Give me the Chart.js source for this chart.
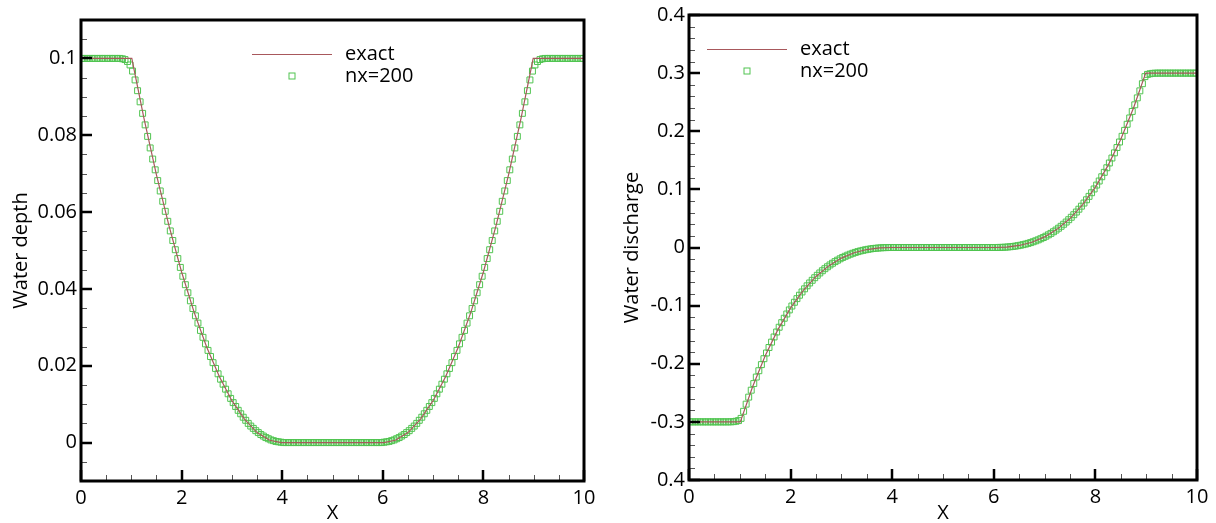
<!DOCTYPE html>
<html>
<head>
<meta charset="utf-8">
<script src="https://cdn.jsdelivr.net/npm/chart.js@4/dist/chart.umd.min.js"></script>
<style>
  html, body { margin: 0; padding: 0; background: #fff; }
  #wrap { position: relative; width: 1216px; height: 523px; overflow: hidden; }
  canvas { position: absolute; top: 0; }
  #depthChart { left: 0; }
  #dischargeChart { left: 600px; }
</style>
</head>
<body>
<div id="wrap">
  <canvas id="depthChart" width="600" height="523"></canvas>
  <canvas id="dischargeChart" width="616" height="523"></canvas>
</div>
<script>
// cell centres of the nx=200 grid
const cellX = [
  0.025,0.075,0.125,0.175,0.225,0.275,0.325,0.375,0.425,0.475,
  0.525,0.575,0.625,0.675,0.725,0.775,0.825,0.875,0.925,0.975,
  1.025,1.075,1.125,1.175,1.225,1.275,1.325,1.375,1.425,1.475,
  1.525,1.575,1.625,1.675,1.725,1.775,1.825,1.875,1.925,1.975,
  2.025,2.075,2.125,2.175,2.225,2.275,2.325,2.375,2.425,2.475,
  2.525,2.575,2.625,2.675,2.725,2.775,2.825,2.875,2.925,2.975,
  3.025,3.075,3.125,3.175,3.225,3.275,3.325,3.375,3.425,3.475,
  3.525,3.575,3.625,3.675,3.725,3.775,3.825,3.875,3.925,3.975,
  4.025,4.075,4.125,4.175,4.225,4.275,4.325,4.375,4.425,4.475,
  4.525,4.575,4.625,4.675,4.725,4.775,4.825,4.875,4.925,4.975,
  5.025,5.075,5.125,5.175,5.225,5.275,5.325,5.375,5.425,5.475,
  5.525,5.575,5.625,5.675,5.725,5.775,5.825,5.875,5.925,5.975,
  6.025,6.075,6.125,6.175,6.225,6.275,6.325,6.375,6.425,6.475,
  6.525,6.575,6.625,6.675,6.725,6.775,6.825,6.875,6.925,6.975,
  7.025,7.075,7.125,7.175,7.225,7.275,7.325,7.375,7.425,7.475,
  7.525,7.575,7.625,7.675,7.725,7.775,7.825,7.875,7.925,7.975,
  8.025,8.075,8.125,8.175,8.225,8.275,8.325,8.375,8.425,8.475,
  8.525,8.575,8.625,8.675,8.725,8.775,8.825,8.875,8.925,8.975,
  9.025,9.075,9.125,9.175,9.225,9.275,9.325,9.375,9.425,9.475,
  9.525,9.575,9.625,9.675,9.725,9.775,9.825,9.875,9.925,9.975
];

const depthNx200 = [
  0.1,0.1,0.1,0.1,0.1,0.1,0.1,0.1,0.1,0.1,
  0.1,0.1,0.1,0.1,0.1,0.1,0.0999,0.0997,0.0992,0.0983,
  0.0967,0.0944,0.0916,0.0887,0.0857,0.0827,0.0797,0.0767,0.0738,0.0710,
  0.0682,0.0655,0.0628,0.0602,0.0576,0.0551,0.0526,0.0502,0.0479,0.0456,
  0.0433,0.0411,0.0390,0.0369,0.0349,0.0330,0.0311,0.0292,0.0274,0.0257,
  0.0240,0.0224,0.0208,0.0193,0.0179,0.0165,0.0152,0.0139,0.0127,0.0115,
  0.0104,0.0094,0.0084,0.0075,0.0066,0.0058,0.0050,0.0043,0.0037,0.0031,
  0.0026,0.0021,0.0017,0.0013,0.0010,0.0007,0.0005,0.0003,0.0002,0.0001,
  0,0,0,0,0,0,0,0,0,0,
  0,0,0,0,0,0,0,0,0,0,
  0,0,0,0,0,0,0,0,0,0,
  0,0,0,0,0,0,0,0,0,0,
  0.0001,0.0002,0.0003,0.0005,0.0007,0.0010,0.0013,0.0017,0.0021,0.0026,
  0.0031,0.0037,0.0043,0.0050,0.0058,0.0066,0.0075,0.0084,0.0094,0.0104,
  0.0115,0.0127,0.0139,0.0152,0.0165,0.0179,0.0193,0.0208,0.0224,0.0240,
  0.0257,0.0274,0.0292,0.0311,0.0330,0.0349,0.0369,0.0390,0.0411,0.0433,
  0.0456,0.0479,0.0502,0.0526,0.0551,0.0576,0.0602,0.0628,0.0655,0.0682,
  0.0710,0.0738,0.0767,0.0797,0.0827,0.0857,0.0887,0.0916,0.0944,0.0967,
  0.0983,0.0992,0.0997,0.0999,0.1,0.1,0.1,0.1,0.1,0.1,
  0.1,0.1,0.1,0.1,0.1,0.1,0.1,0.1,0.1,0.1
];

const dischargeNx200 = [
  -0.3,-0.3,-0.3,-0.3,-0.3,-0.3,-0.3,-0.3,-0.3,-0.3,
  -0.3,-0.3,-0.3,-0.3,-0.3,-0.3,-0.2999,-0.2996,-0.2989,-0.2978,
  -0.2940,-0.2818,-0.2695,-0.2574,-0.2455,-0.2341,-0.2229,-0.2120,-0.2015,-0.1913,
  -0.1815,-0.1720,-0.1628,-0.1539,-0.1454,-0.1372,-0.1293,-0.1217,-0.1144,-0.1074,
  -0.1007,-0.0942,-0.0880,-0.0821,-0.0765,-0.0711,-0.0659,-0.0610,-0.0564,-0.0520,
  -0.0478,-0.0438,-0.0400,-0.0365,-0.0332,-0.0300,-0.0271,-0.0243,-0.0218,-0.0194,
  -0.0171,-0.0151,-0.0132,-0.0115,-0.0099,-0.0084,-0.0071,-0.0059,-0.0049,-0.0039,
  -0.0031,-0.0024,-0.0018,-0.0013,-0.0009,-0.0006,-0.0003,-0.0002,-0.0001,0,
  0,0,0,0,0,0,0,0,0,0,
  0,0,0,0,0,0,0,0,0,0,
  0,0,0,0,0,0,0,0,0,0,
  0,0,0,0,0,0,0,0,0,0,
  0,0.0001,0.0002,0.0003,0.0006,0.0009,0.0013,0.0018,0.0024,0.0031,
  0.0039,0.0049,0.0059,0.0071,0.0084,0.0099,0.0115,0.0132,0.0151,0.0171,
  0.0194,0.0218,0.0243,0.0271,0.0300,0.0332,0.0365,0.0400,0.0438,0.0478,
  0.0520,0.0564,0.0610,0.0659,0.0711,0.0765,0.0821,0.0880,0.0942,0.1007,
  0.1074,0.1144,0.1217,0.1293,0.1372,0.1454,0.1539,0.1628,0.1720,0.1815,
  0.1913,0.2015,0.2120,0.2229,0.2341,0.2455,0.2574,0.2695,0.2818,0.2940,
  0.2978,0.2989,0.2996,0.2999,0.3,0.3,0.3,0.3,0.3,0.3,
  0.3,0.3,0.3,0.3,0.3,0.3,0.3,0.3,0.3,0.3
];

// exact solution, read at the break points and quarter steps
const exactX = [0, 1.01, 1.25, 1.5, 1.75, 2, 2.25, 2.5, 2.75, 3, 3.25, 3.5, 3.75, 3.98,
                6.02, 6.25, 6.5, 6.75, 7, 7.25, 7.5, 7.75, 8, 8.25, 8.5, 8.75, 8.99, 10];
const exactDepth = [0.1, 0.1, 0.0845, 0.0697, 0.0564, 0.0444, 0.0339, 0.0248, 0.0172, 0.0109, 0.0061, 0.0026, 0.0006, 0,
                    0, 0.0006, 0.0026, 0.0061, 0.0109, 0.0172, 0.0248, 0.0339, 0.0444, 0.0564, 0.0697, 0.0845, 0.1, 0.1];
const exactDischarge = [-0.3, -0.3, -0.2399, -0.1863, -0.1413, -0.1040, -0.0737, -0.0498, -0.0316, -0.0182, -0.0091, -0.0035, -0.0007, 0,
                        0, 0.0007, 0.0035, 0.0091, 0.0182, 0.0316, 0.0498, 0.0737, 0.1040, 0.1413, 0.1863, 0.2399, 0.3, 0.3];

// axis ticks
const xTicks = [0, 2, 4, 6, 8, 10];
const xTickLabels = ['0', '2', '4', '6', '8', '10'];
const xMinorTicks = [0.5, 1, 1.5, 2.5, 3, 3.5, 4.5, 5, 5.5, 6.5, 7, 7.5, 8.5, 9, 9.5];

const depthTicks = [0, 0.02, 0.04, 0.06, 0.08, 0.1];
const depthTickLabels = ['0', '0.02', '0.04', '0.06', '0.08', '0.1'];
const depthMinorTicks = [-0.005, 0.005, 0.01, 0.015, 0.025, 0.03, 0.035, 0.045, 0.05, 0.055,
                         0.065, 0.07, 0.075, 0.085, 0.09, 0.095, 0.105];

const dischargeTicks = [-0.4, -0.3, -0.2, -0.1, 0, 0.1, 0.2, 0.3, 0.4];
const dischargeTickLabels = ['0.4', '-0.3', '-0.2', '-0.1', '0', '0.1', '0.2', '0.3', '0.4'];
const dischargeMinorTicks = [-0.38, -0.36, -0.34, -0.32, -0.28, -0.26, -0.24, -0.22, -0.18, -0.16, -0.14, -0.12,
                             -0.08, -0.06, -0.04, -0.02, 0.02, 0.04, 0.06, 0.08, 0.12, 0.14, 0.16, 0.18,
                             0.22, 0.24, 0.26, 0.28, 0.32, 0.34, 0.36, 0.38];

const LINE_COLOR = '#a8585c';
const SQUARE_COLOR = '#50c450';
const FONT = "'Open Sans', 'DejaVu Sans', sans-serif";

Chart.defaults.font.family = FONT;
Chart.defaults.font.size = 20;
Chart.defaults.color = '#000';

// frame, inward ticks and the little legend box
const framePlugin = {
  id: 'frame',
  afterDatasetsDraw(chart, args, opts) {
    const { ctx, chartArea: a } = chart;
    const x = chart.scales.x, y = chart.scales.y;
    ctx.save();

    ctx.strokeStyle = '#555';
    ctx.lineWidth = 1;
    ctx.beginPath();
    opts.xMinor.forEach(v => {
      const px = Math.round(x.getPixelForValue(v)) + 0.5;
      ctx.moveTo(px, a.bottom); ctx.lineTo(px, a.bottom - 6);
    });
    opts.yMinor.forEach(v => {
      const py = Math.round(y.getPixelForValue(v)) + 0.5;
      ctx.moveTo(a.left, py); ctx.lineTo(a.left + 6, py);
    });
    ctx.stroke();

    ctx.strokeStyle = '#000';
    ctx.lineWidth = 2.5;
    ctx.beginPath();
    xTicks.forEach(v => {
      const px = Math.round(x.getPixelForValue(v));
      ctx.moveTo(px, a.bottom); ctx.lineTo(px, a.bottom - 11);
    });
    opts.yMajor.forEach(v => {
      const py = Math.round(y.getPixelForValue(v));
      ctx.moveTo(a.left, py); ctx.lineTo(a.left + 11, py);
    });
    ctx.stroke();

    ctx.lineWidth = 3;
    ctx.strokeRect(a.left, a.top, a.right - a.left, a.bottom - a.top);

    // legend
    const lg = opts.legend;
    const ds = chart.data.datasets;
    ctx.strokeStyle = ds[0].borderColor;
    ctx.lineWidth = 1;
    ctx.beginPath();
    ctx.moveTo(lg.x1, lg.y1 + 0.5); ctx.lineTo(lg.x2, lg.y1 + 0.5);
    ctx.stroke();
    ctx.strokeStyle = ds[1].borderColor;
    ctx.strokeRect(lg.sq - 3, lg.y2 - 3, 6, 6);
    ctx.fillStyle = '#000';
    ctx.font = '20px ' + FONT;
    ctx.textAlign = 'left';
    ctx.textBaseline = 'middle';
    ctx.fillText(ds[0].label, lg.tx, lg.y1);
    ctx.fillText(ds[1].label, lg.tx, lg.y2);
    ctx.restore();
  }
};

function makeChart(id, cfg) {
  const points = cellX.map((v, i) => ({ x: v, y: cfg.numeric[i] }));
  const line = exactX.map((v, i) => ({ x: v, y: cfg.exact[i] }));
  return new Chart(document.getElementById(id), {
    type: 'line',
    data: {
      datasets: [{
        label: 'exact',
        data: line,
        borderColor: LINE_COLOR,
        borderWidth: 1.2,
        pointRadius: 0,
        fill: false,
        tension: 0
      }, {
        label: 'nx=200',
        data: points,
        showLine: false,
        pointStyle: 'rect',
        pointRadius: 4.2,
        pointBorderWidth: 1,
        borderColor: SQUARE_COLOR,
        pointBorderColor: SQUARE_COLOR,
        pointBackgroundColor: 'rgba(0,0,0,0)',
        backgroundColor: 'rgba(0,0,0,0)'
      }]
    },
    options: {
      responsive: false,
      animation: false,
      events: [],
      layout: { padding: cfg.padding },
      scales: {
        x: {
          type: 'linear',
          min: 0,
          max: 10,
          afterBuildTicks: s => { s.ticks = xTicks.map(v => ({ value: v })); },
          afterFit: s => { s.height = cfg.xHeight; s.paddingLeft = 0; s.paddingRight = 0; },
          grid: { display: false, drawTicks: false },
          border: { display: false },
          ticks: {
            padding: 5,
            autoSkip: false,
            maxRotation: 0,
            callback: (v, i) => xTickLabels[i]
          },
          title: {
            display: true,
            text: 'X',
            padding: { top: 0, bottom: 0 },
            font: { size: 20, lineHeight: 1 }
          }
        },
        y: {
          type: 'linear',
          min: cfg.yMin,
          max: cfg.yMax,
          afterBuildTicks: s => { s.ticks = cfg.yTicks.map(v => ({ value: v })); },
          afterFit: s => { s.width = cfg.yWidth; s.paddingTop = 0; s.paddingBottom = 0; },
          grid: { display: false, drawTicks: false },
          border: { display: false },
          ticks: {
            padding: 4,
            autoSkip: false,
            callback: (v, i) => cfg.yLabels[i]
          },
          title: {
            display: true,
            text: cfg.yTitle,
            padding: { top: cfg.titlePad, bottom: 0 },
            font: { size: 20, lineHeight: 1 }
          }
        }
      },
      plugins: {
        legend: { display: false },
        tooltip: { enabled: false },
        frame: {
          xMinor: xMinorTicks,
          yMinor: cfg.yMinor,
          yMajor: cfg.yTicks,
          legend: cfg.legend
        }
      }
    },
    plugins: [framePlugin]
  });
}

makeChart('depthChart', {
  numeric: depthNx200,
  exact: exactDepth,
  yMin: -0.01,
  yMax: 0.11,
  yTicks: depthTicks,
  yLabels: depthTickLabels,
  yMinor: depthMinorTicks,
  yTitle: 'Water depth',
  yWidth: 81,
  xHeight: 42,
  titlePad: 11,
  padding: { left: 0, right: 16, top: 20, bottom: 0 },
  legend: { x1: 252, x2: 332, y1: 54, sq: 292, y2: 76, tx: 345 }
});

makeChart('dischargeChart', {
  numeric: dischargeNx200,
  exact: exactDischarge,
  yMin: -0.4,
  yMax: 0.4,
  yTicks: dischargeTicks,
  yLabels: dischargeTickLabels,
  yMinor: dischargeMinorTicks,
  yTitle: 'Water discharge',
  yWidth: 89,
  xHeight: 43,
  titlePad: 22,
  padding: { left: 0, right: 19, top: 15, bottom: 0 },
  legend: { x1: 107, x2: 187, y1: 49, sq: 147, y2: 71, tx: 200 }
});
</script>
</body>
</html>
